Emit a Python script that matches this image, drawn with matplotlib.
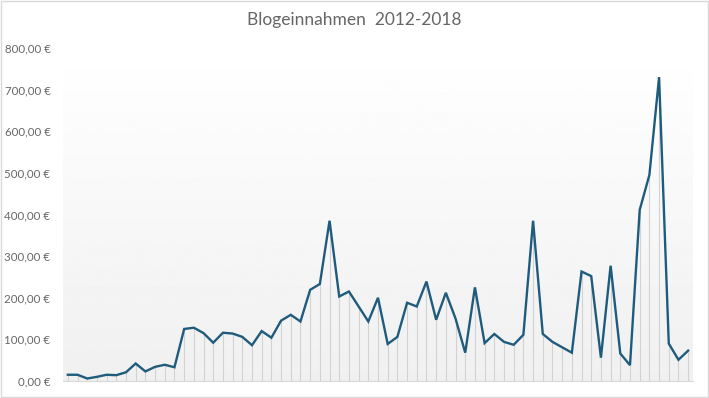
import numpy as np
import matplotlib.pyplot as plt
from matplotlib.patches import Rectangle
from matplotlib.ticker import FuncFormatter

# monthly blog income
einnahmen = [15, 15, 6, 10, 15, 14, 21, 42, 23, 34, 39, 33, 125, 128, 115, 92,
             116, 114, 106, 86, 120, 104, 145, 159, 143, 219, 233, 385, 203, 215,
             179, 143, 200, 89, 106, 188, 179, 239, 147, 212, 150, 68, 225, 91,
             113, 94, 87, 111, 385, 113, 94, 81, 68, 263, 252, 56, 277, 66, 38,
             411, 495, 730, 90, 51, 73]
y_ticks = [0, 100, 200, 300, 400, 500, 600, 700, 800]
title = 'Blogeinnahmen  2012-2018'

plt.rcParams['font.family'] = ['Lato', 'DejaVu Sans']

fig = plt.figure(figsize=(7.09, 3.98), dpi=100)
ax = fig.add_axes([63 / 709, 1 - 381 / 398, 630 / 709, 333 / 398])

x = np.arange(len(einnahmen))

# soft vertical gradient as plot background
grad = np.linspace(1.0, 0.94, 256).reshape(-1, 1)
ax.imshow(grad, cmap='gray', vmin=0, vmax=1, aspect='auto',
          extent=(-0.5, len(einnahmen) - 0.5, 0, 800), zorder=0)

ax.vlines(x, 0, einnahmen, color='#d2d2d2', linewidth=0.8, zorder=1)
ax.plot(x, einnahmen, color='#1f5b7c', linewidth=1.7, zorder=3,
        solid_joinstyle='miter')

ax.set_xlim(-0.5, len(einnahmen) - 0.5)
ax.set_ylim(0, 800)
ax.set_yticks(y_ticks)
ax.yaxis.set_major_formatter(FuncFormatter(lambda v, p: f'{v:,.2f} €'.replace('.', ',')))
ax.tick_params(axis='y', length=0, labelsize=8.3, labelcolor='#666666', pad=9)
ax.set_xticks([])

for side in ['top', 'right', 'left']:
    ax.spines[side].set_visible(False)
ax.spines['bottom'].set_color('#d9d9d9')
ax.spines['bottom'].set_linewidth(0.8)

fig.text(354 / 709, 1 - 20 / 398, title, ha='center', va='center',
         fontsize=12.5, color='#666666')

# light chart border
fig.patches.append(Rectangle((0.001, 0.002), 0.997, 0.995, transform=fig.transFigure,
                             fill=False, edgecolor='#d9d9d9', linewidth=1))

fig.savefig('out.png', dpi=100)
